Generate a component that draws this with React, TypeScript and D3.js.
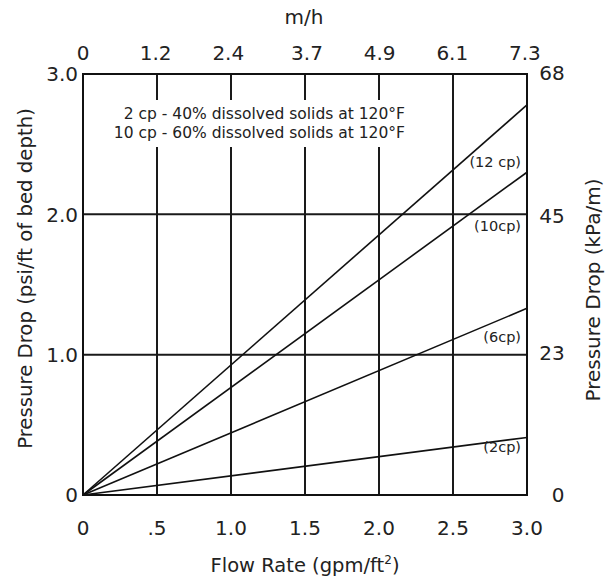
import React from "react";
import * as d3 from "d3";

const flowTicks = [0, 0.5, 1.0, 1.5, 2.0, 2.5, 3.0];
const flowTickLabels = ["0", ".5", "1.0", "1.5", "2.0", "2.5", "3.0"];
const mhTicks = [0, 1.2, 2.4, 3.7, 4.9, 6.1, 7.3];
const psiTicks = [0, 1.0, 2.0, 3.0];
const psiTickLabels = ["0", "1.0", "2.0", "3.0"];
const kpaTicks = [0, 23, 45, 68];

const seriesNames = ["(12 cp)", "(10cp)", "(6cp)", "(2cp)"];
// pressure drop (psi/ft) at flow 0 and 3.0 gpm/ft²
const seriesFlow = [0, 3.0];
const series12 = [0, 2.78];
const series10 = [0, 2.3];
const series6 = [0, 1.33];
const series2 = [0, 0.41];
const allSeries = [series12, series10, series6, series2];
// label vertical offsets below each line's right end (px)
const labelDy = [62, 59, 34, 15];

const noteLines = [
  "2 cp - 40% dissolved solids at 120°F",
  "10 cp - 60% dissolved solids at 120°F",
];

const W = 611;
const H = 577;
const L = 83, R = 527, T = 74, B = 495;
const font = "DejaVu Sans, sans-serif";

export default function App() {
  const x = d3.scaleLinear().domain([0, 3]).range([L, R]);
  const xTop = d3.scaleLinear().domain([0, 7.334]).range([L, R]);
  const y = d3.scaleLinear().domain([0, 3]).range([B, T]);
  const yRight = d3.scaleLinear().domain([0, 67.86]).range([B, T]);
  const line = d3
    .line<number>()
    .x((_, i) => x(seriesFlow[i]))
    .y((d) => y(d));

  return (
    <svg
      width={W}
      height={H}
      style={{ position: "absolute", left: 0, top: 0, background: "#fff" }}
      fontFamily={font}
    >
      <rect x={0} y={0} width={W} height={H} fill="#fff" />
      {/* grid */}
      {flowTicks.slice(1, -1).map((t) => (
        <line key={"vx" + t} x1={x(t)} x2={x(t)} y1={T} y2={B} stroke="#1a1a1a" strokeWidth={2} />
      ))}
      {psiTicks.slice(1, -1).map((t) => (
        <line key={"hy" + t} x1={L} x2={R} y1={y(t)} y2={y(t)} stroke="#1a1a1a" strokeWidth={2} />
      ))}
      {/* annotation background */}
      <rect x={108} y={100} width={300} height={47} fill="#fff" />
      {noteLines.map((s, i) => (
        <text key={s} x={405} y={119 + i * 19} fontSize={15.5} textAnchor="end" fill="#222">
          {s}
        </text>
      ))}
      {/* lines */}
      {allSeries.map((s, i) => (
        <path key={i} d={line(s) || ""} fill="none" stroke="#111" strokeWidth={1.6} />
      ))}
      {allSeries.map((s, i) => (
        <text
          key={"l" + i}
          x={521}
          y={y(s[1]) + labelDy[i]}
          fontSize={14.5}
          textAnchor="end"
          fill="#222"
        >
          {seriesNames[i]}
        </text>
      ))}
      {/* frame */}
      <rect x={L} y={T} width={R - L} height={B - T} fill="none" stroke="#111" strokeWidth={2} />
      {/* bottom axis */}
      {flowTicks.map((t, i) => (
        <text key={"bt" + t} x={x(t)} y={535} fontSize={20} textAnchor="middle" fill="#222">
          {flowTickLabels[i]}
        </text>
      ))}
      <text x={305} y={572} fontSize={19.5} textAnchor="middle" fill="#222">
        Flow Rate (gpm/ft
        <tspan fontSize={12} dy={-8}>2</tspan>
        <tspan dy={8}>)</tspan>
      </text>
      {/* top axis */}
      {mhTicks.map((t) => (
        <text key={"tt" + t} x={xTop(t)} y={60} fontSize={20} textAnchor="middle" fill="#222">
          {String(t === 0 ? "0" : t.toFixed(1))}
        </text>
      ))}
      <text x={304} y={24} fontSize={20} textAnchor="middle" fill="#222">
        m/h
      </text>
      {/* left axis */}
      {psiTicks.map((t, i) => (
        <text key={"ly" + t} x={78} y={y(t)} dy="0.36em" fontSize={20} textAnchor="end" fill="#222">
          {psiTickLabels[i]}
        </text>
      ))}
      <text
        transform={`translate(32,${(T + B) / 2 - 6}) rotate(-90)`}
        fontSize={19.7}
        textAnchor="middle"
        fill="#222"
      >
        Pressure Drop (psi/ft of bed depth)
      </text>
      {/* right axis */}
      {kpaTicks.map((t) => (
        <text
          key={"ry" + t}
          x={t === 0 ? 558 : 552}
          y={yRight(t)}
          dy="0.36em"
          fontSize={20}
          textAnchor="middle"
          fill="#222"
        >
          {String(t)}
        </text>
      ))}
      <text
        transform={`translate(600,${290}) rotate(-90)`}
        fontSize={20}
        textAnchor="middle"
        fill="#222"
      >
        Pressure Drop (kPa/m)
      </text>
    </svg>
  );
}
